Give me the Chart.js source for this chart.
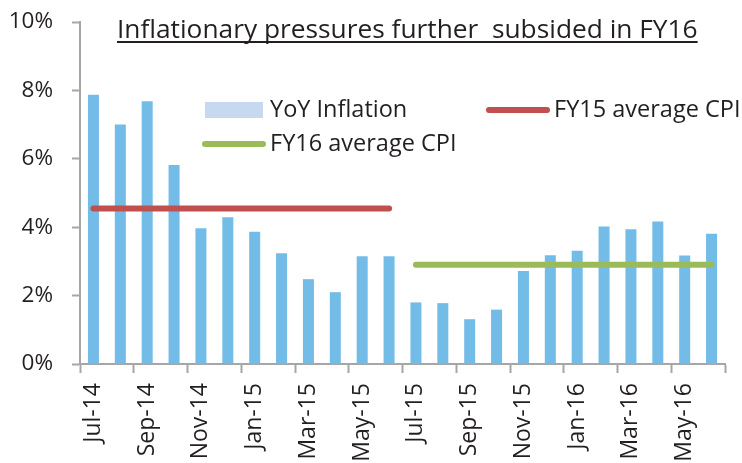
<!DOCTYPE html>
<html>
<head>
<meta charset="utf-8">
<script src="https://cdn.jsdelivr.net/npm/chart.js@4"></script>
<style>
  body { margin: 0; background: #ffffff; }
</style>
</head>
<body>
<canvas id="myChart" width="742" height="463"></canvas>
<script>
const ctx = document.getElementById('myChart').getContext('2d');

const meses = ['Jul-14', 'Aug-14', 'Sep-14', 'Oct-14', 'Nov-14', 'Dec-14',
  'Jan-15', 'Feb-15', 'Mar-15', 'Apr-15', 'May-15', 'Jun-15',
  'Jul-15', 'Aug-15', 'Sep-15', 'Oct-15', 'Nov-15', 'Dec-15',
  'Jan-16', 'Feb-16', 'Mar-16', 'Apr-16', 'May-16', 'Jun-16'];
const inflacao = [7.87, 7.00, 7.68, 5.82, 3.97, 4.29, 3.87, 3.24, 2.48, 2.10, 3.15, 3.15,
  1.80, 1.78, 1.31, 1.59, 2.72, 3.18, 3.31, 4.02, 3.94, 4.17, 3.17, 3.81];
const mediaFY15 = 4.55;
const mediaFY16 = 2.90;
const yTicks = [0, 2, 4, 6, 8, 10];

const titulo = 'Inflationary pressures further  subsided in FY16';
const fonte = '"Open Sans", sans-serif';
const corTexto = '#231f20';
const corEixo = '#a6a6a6';

// linhas de media: so nos meses de cada ano fiscal
const linhaFY15 = meses.map((m, i) => i < 12 ? mediaFY15 : null);
const linhaFY16 = meses.map((m, i) => i >= 12 ? mediaFY16 : null);

// titulo sublinhado + legenda desenhados dentro da area do grafico
const extras = {
  id: 'extras',
  afterDraw(chart) {
    const c = chart.ctx;
    c.save();
    c.fillStyle = corTexto;
    c.font = '26.3px ' + fonte;
    c.textBaseline = 'alphabetic';
    c.textAlign = 'left';
    c.fillText(titulo, 117, 38);
    const w = c.measureText(titulo).width;
    c.fillRect(117, 41, w, 2);

    const ds = chart.data.datasets;
    const itens = [
      { d: ds[2], x: 205, y: 110 },
      { d: ds[0], x: 489, y: 110 },
      { d: ds[1], x: 205, y: 144 }
    ];
    c.font = '23.5px ' + fonte;
    c.textBaseline = 'middle';
    itens.forEach(it => {
      if (it.d.type === 'bar') {
        c.fillStyle = '#c6d9f0';
        c.fillRect(it.x, it.y - 8, 58, 16);
      } else {
        c.strokeStyle = it.d.borderColor;
        c.lineWidth = 6;
        c.lineCap = 'round';
        c.beginPath();
        c.moveTo(it.x, it.y);
        c.lineTo(it.x + 58, it.y);
        c.stroke();
      }
      c.fillStyle = corTexto;
      c.fillText(it.d.label, it.x + 65, it.y);
    });
    c.restore();
  }
};

new Chart(ctx, {
  data: {
    labels: meses,
    datasets: [
      {
        type: 'line',
        label: 'FY15 average CPI',
        data: linhaFY15,
        borderColor: '#c0504d',
        borderWidth: 6,
        borderCapStyle: 'round',
        pointRadius: 0,
        order: 1
      },
      {
        type: 'line',
        label: 'FY16 average CPI',
        data: linhaFY16,
        borderColor: '#9bbb59',
        borderWidth: 6,
        borderCapStyle: 'round',
        pointRadius: 0,
        order: 1
      },
      {
        type: 'bar',
        label: 'YoY Inflation',
        data: inflacao,
        backgroundColor: '#74bce8',
        categoryPercentage: 1,
        barPercentage: 0.41,
        order: 2
      }
    ]
  },
  options: {
    responsive: false,
    devicePixelRatio: 1,
    animation: false,
    layout: { padding: { top: 22, right: 17, bottom: 0, left: 0 } },
    plugins: {
      legend: { display: false },
      title: { display: false },
      tooltip: { enabled: false }
    },
    scales: {
      x: {
        afterFit(scale) {
          scale.height = 99;
          scale.paddingLeft = 0;
          scale.paddingRight = 0;
        },
        border: { color: corEixo, width: 2 },
        grid: {
          drawOnChartArea: false,
          tickLength: 9,
          tickWidth: 2,
          tickColor: c => (c.index === undefined || c.index % 2 === 0) ? corEixo : 'rgba(0,0,0,0)'
        },
        ticks: {
          autoSkip: false,
          maxRotation: 90,
          minRotation: 90,
          padding: 10,
          color: corTexto,
          font: { family: fonte, size: 23 },
          callback: function (v, i) { return i % 2 === 0 ? meses[i] : ''; }
        }
      },
      y: {
        min: 0,
        max: 10,
        afterFit(scale) {
          scale.width = 80;
          scale.paddingTop = 0;
          scale.paddingBottom = 0;
        },
        afterBuildTicks(scale) { scale.ticks = yTicks.map(v => ({ value: v })); },
        border: { color: corEixo, width: 2 },
        grid: {
          drawOnChartArea: false,
          tickLength: 8,
          tickWidth: 2,
          tickColor: corEixo
        },
        ticks: {
          padding: 19,
          color: corTexto,
          font: { family: fonte, size: 22.5 },
          callback: v => v + '%'
        }
      }
    }
  },
  plugins: [extras]
});
</script>
</body>
</html>
